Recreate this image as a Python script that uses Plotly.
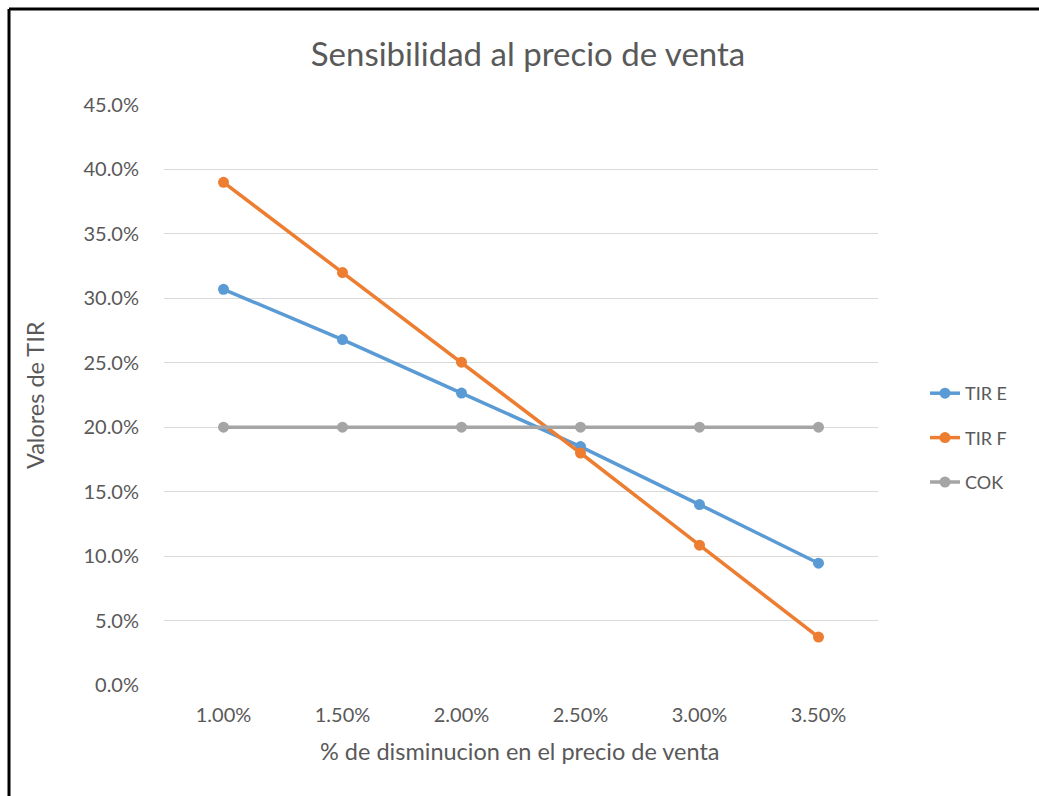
import plotly.graph_objects as go

# Sensitivity of IRR to a drop in the sale price
categorias = ["1.00%", "1.50%", "2.00%", "2.50%", "3.00%", "3.50%"]
tir_e = [0.307, 0.268, 0.2265, 0.185, 0.140, 0.0945]
tir_f = [0.390, 0.320, 0.2505, 0.180, 0.1085, 0.0372]
cok = [0.20, 0.20, 0.20, 0.20, 0.20, 0.20]

y_ticks = [0.0, 0.05, 0.10, 0.15, 0.20, 0.25, 0.30, 0.35, 0.40, 0.45]
y_tick_labels = ["0.0%", "5.0%", "10.0%", "15.0%", "20.0%", "25.0%",
                 "30.0%", "35.0%", "40.0%", "45.0%"]

FONT = "Lato, Carlito, Calibri, sans-serif"
TXT = "#595959"

series = [
    ("TIR E", tir_e, "#5B9BD5"),
    ("TIR F", tir_f, "#ED7D31"),
    ("COK", cok, "#A5A5A5"),
]

fig = go.Figure()
for name, vals, color in series:
    fig.add_trace(go.Scatter(
        x=categorias, y=vals, name=name, mode="lines+markers",
        line=dict(color=color, width=3.5),
        marker=dict(color=color, size=11, symbol="circle"),
        legendgroup=name,
    ))

W, H = 1039, 796
L, R, T, B = 164, 161, 105, 111
pw, ph = W - L - R, H - T - B


def px_x(px):
    return (px - L) / pw


def px_y(py):
    return (H - B - py) / ph


fig.update_layout(
    width=W, height=H,
    margin=dict(l=L, r=R, t=T, b=B, pad=0),
    paper_bgcolor="white", plot_bgcolor="white",
    font=dict(family=FONT, color=TXT, size=20),
    title=dict(text="Sensibilidad al precio de venta",
               x=528 / W, xanchor="center", xref="container",
               y=1 - 54 / H, yanchor="middle", yref="container",
               font=dict(family=FONT, size=33, color=TXT)),
    showlegend=True,
    legend=dict(x=px_x(925), xanchor="left", y=px_y(438), yanchor="middle",
                font=dict(family=FONT, size=18, color=TXT),
                tracegroupgap=18, bgcolor="rgba(0,0,0,0)"),
    xaxis=dict(type="category", range=[-0.5, 5.5], showgrid=False,
               showline=False, zeroline=False, ticks="",
               ticklabelstandoff=16,
               tickfont=dict(family=FONT, size=20, color=TXT)),
    yaxis=dict(range=[0, 0.45], tickvals=y_ticks, ticktext=y_tick_labels,
               showgrid=True, gridcolor="#D9D9D9", gridwidth=1,
               showline=False, zeroline=False, ticks="",
               ticklabelstandoff=24,
               tickfont=dict(family=FONT, size=20, color=TXT)),
    annotations=[
        dict(text="% de disminucion en el precio de venta", xref="paper", yref="paper",
             x=px_x(520), y=px_y(751), xanchor="center", yanchor="middle",
             showarrow=False, font=dict(family=FONT, size=23.5, color=TXT)),
        dict(text="Valores de TIR", xref="paper", yref="paper",
             x=px_x(35), y=px_y(395), xanchor="center", yanchor="middle",
             textangle=-90, showarrow=False,
             font=dict(family=FONT, size=23.5, color=TXT)),
    ],
    shapes=[
        dict(type="line", xref="paper", yref="paper",
             x0=px_x(9), x1=px_x(1039), y0=px_y(9), y1=px_y(9),
             line=dict(color="black", width=3)),
        dict(type="line", xref="paper", yref="paper",
             x0=px_x(9), x1=px_x(9), y0=px_y(9), y1=px_y(796),
             line=dict(color="black", width=3)),
    ],
)

fig.write_html("out.html")
